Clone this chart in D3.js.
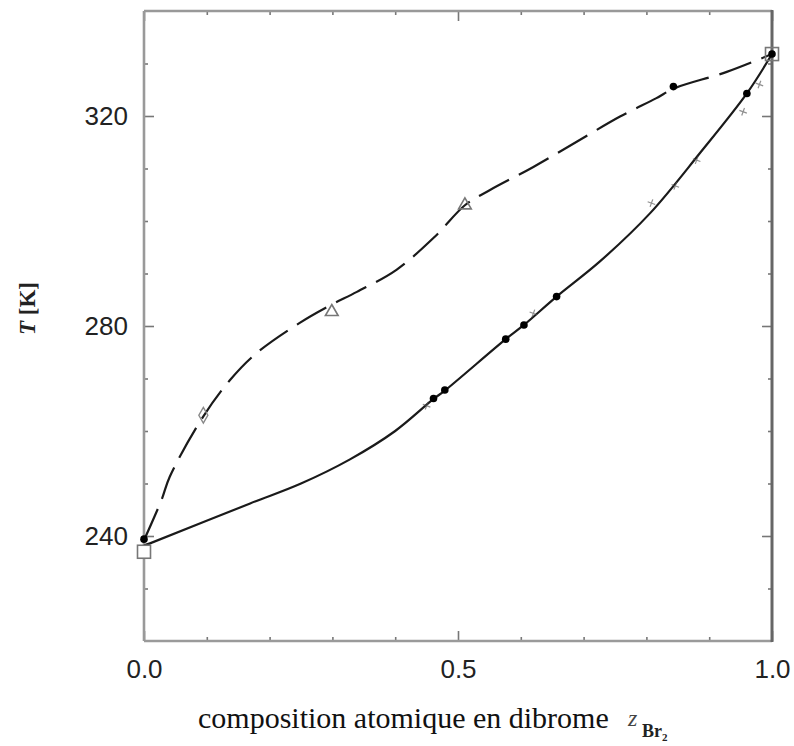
<!DOCTYPE html>
<html>
<head>
<meta charset="utf-8">
<script src="https://cdn.jsdelivr.net/npm/d3@7/dist/d3.min.js"></script>
<style>
  html, body { margin: 0; padding: 0; background: #fff; }
  svg { display: block; }
</style>
</head>
<body>
<svg id="chart" width="794" height="746"></svg>
<script>
// ---------- data ----------
// dashed curve (vapour branch)
const dashX = [0, 0.028, 0.041, 0.094, 0.137, 0.179, 0.248, 0.296, 0.339, 0.402, 0.463, 0.511, 0.551, 0.620, 0.689, 0.758, 0.816, 0.843, 0.928, 1.0];
const dashT = [239.2, 246.9, 251.3, 262.7, 269.7, 274.8, 280.6, 283.9, 286.5, 290.7, 297.0, 303.0, 305.9, 310.3, 315.1, 319.9, 323.4, 325.2, 328.4, 331.8];
// solid curve (liquid branch)
const solidX = [0, 0.0095, 0.169, 0.25, 0.328, 0.4, 0.461, 0.479, 0.576, 0.605, 0.657, 0.726, 0.806, 0.885, 0.960, 1.0];
const solidT = [238.2, 238.6, 246.2, 250.0, 254.6, 260.0, 266.1, 267.7, 277.5, 280.2, 285.6, 292.3, 301.5, 312.9, 324.3, 331.8];
// filled circles
const dotX = [0, 0.461, 0.479, 0.576, 0.605, 0.657, 0.843, 0.960, 1.0];
const dotT = [239.4, 266.2, 267.8, 277.5, 280.2, 285.6, 325.6, 324.3, 331.8];
// open squares (pure components)
const squareX = [0, 1.0];
const squareT = [237.0, 331.8];
// open triangles
const triX = [0.299, 0.511];
const triT = [282.7, 303.0];
// open diamond
const diaX = [0.0945];
const diaT = [263.0];
// faint small cross marks
const crossX = [0.45, 0.62, 0.808, 0.846, 0.88, 0.954, 0.98];
const crossT = [264.8, 282.4, 303.4, 306.7, 311.6, 320.8, 326.0];

// axes
const xDomain = [0, 1];
const yDomain = [220, 340];
const xMajor = [0, 0.5, 1.0];
const xMajorLabels = ["0.0", "0.5", "1.0"];
const xMinor = [0.1, 0.2, 0.3, 0.4, 0.6, 0.7, 0.8, 0.9];
const yMajor = [240, 280, 320];
const yMajorLabels = ["240", "280", "320"];
const yMinor = [230, 250, 260, 270, 290, 300, 310, 330];

const xLabelText = "composition atomique en dibrome";
const yLabelT = "T";
const yLabelUnit = " [K]";

// ---------- layout ----------
const svg = d3.select("#chart");
const L = 144, R = 772, T0 = 11, B = 641;
const x = d3.scaleLinear().domain(xDomain).range([L, R]);
const y = d3.scaleLinear().domain(yDomain).range([B, T0]);

svg.append("rect").attr("width", 794).attr("height", 746).attr("fill", "#fff");

const tickFont = "'Liberation Sans', Arial, Helvetica, sans-serif";

function styleAxis(g) {
  g.select(".domain").remove();
  g.selectAll(".tick line").attr("stroke", "#777").attr("stroke-width", 1.6);
  g.selectAll(".tick text").attr("fill", "#222").style("font-family", tickFont).style("font-size", "26px");
}

// bottom axis
svg.append("g").attr("transform", `translate(0,${B})`)
  .call(d3.axisBottom(x).tickValues(xMajor).tickSize(-10).tickPadding(18.5)
        .tickFormat((d, i) => xMajorLabels[i]))
  .call(styleAxis);
svg.append("g").attr("transform", `translate(0,${B})`)
  .call(d3.axisBottom(x).tickValues(xMinor).tickSize(-4).tickFormat(""))
  .call(styleAxis);
// top axis
svg.append("g").attr("transform", `translate(0,${T0})`)
  .call(d3.axisTop(x).tickValues(xMajor).tickSize(-10).tickFormat(""))
  .call(styleAxis);
svg.append("g").attr("transform", `translate(0,${T0})`)
  .call(d3.axisTop(x).tickValues(xMinor).tickSize(-4).tickFormat(""))
  .call(styleAxis);
// left axis
svg.append("g").attr("transform", `translate(${L},0)`)
  .call(d3.axisLeft(y).tickValues(yMajor).tickSize(-10).tickPadding(16)
        .tickFormat((d, i) => yMajorLabels[i]))
  .call(styleAxis);
svg.append("g").attr("transform", `translate(${L},0)`)
  .call(d3.axisLeft(y).tickValues(yMinor).tickSize(-4).tickFormat(""))
  .call(styleAxis);
// right axis
svg.append("g").attr("transform", `translate(${R},0)`)
  .call(d3.axisRight(y).tickValues(yMajor).tickSize(-10).tickFormat(""))
  .call(styleAxis);
svg.append("g").attr("transform", `translate(${R},0)`)
  .call(d3.axisRight(y).tickValues(yMinor).tickSize(-4).tickFormat(""))
  .call(styleAxis);

// frame
svg.append("line").attr("x1", L).attr("x2", R).attr("y1", T0).attr("y2", T0)
  .attr("stroke", "#999").attr("stroke-width", 2.6);
svg.append("line").attr("x1", L).attr("x2", R).attr("y1", B).attr("y2", B)
  .attr("stroke", "#9a9a9a").attr("stroke-width", 2.4);
svg.append("line").attr("x1", L).attr("x2", L).attr("y1", T0).attr("y2", B)
  .attr("stroke", "#999").attr("stroke-width", 2.6);
svg.append("line").attr("x1", R).attr("x2", R).attr("y1", T0 - 1).attr("y2", B + 1)
  .attr("stroke", "#666").attr("stroke-width", 3);

// ---------- curves ----------
const line = d3.line().x(d => x(d[0])).y(d => y(d[1])).curve(d3.curveCatmullRom.alpha(0.5));
const dashData = dashX.map((v, i) => [v, dashT[i]]);
const solidData = solidX.map((v, i) => [v, solidT[i]]);

svg.append("path").attr("d", line(dashData)).attr("fill", "none")
  .attr("stroke", "#1a1a1a").attr("stroke-width", 2.2)
  .attr("stroke-dasharray", "34,11").attr("stroke-linecap", "butt");
svg.append("path").attr("d", line(solidData)).attr("fill", "none")
  .attr("stroke", "#1a1a1a").attr("stroke-width", 2.2);

// ---------- markers ----------
// faint small crosses
const crossG = svg.append("g").selectAll("g").data(crossX.map((v, i) => [v, crossT[i]])).join("g")
  .attr("transform", d => `translate(${x(d[0])},${y(d[1])}) rotate(20)`)
  .attr("stroke", "#555").attr("stroke-width", 1.2).attr("opacity", 0.65);
crossG.append("line").attr("x1", -4).attr("x2", 4).attr("y1", 0).attr("y2", 0);
crossG.append("line").attr("x1", 0).attr("x2", 0).attr("y1", -4).attr("y2", 4);

// open squares
svg.append("g").selectAll("rect").data(squareX.map((v, i) => [v, squareT[i]])).join("rect")
  .attr("x", d => x(d[0]) - 6.5).attr("y", d => y(d[1]) - 6.5)
  .attr("width", 13).attr("height", 13)
  .attr("fill", (d, i) => i === 0 ? "#fff" : "none").attr("stroke", "#777").attr("stroke-width", 1.6);

// open triangles
svg.append("g").selectAll("path").data(triX.map((v, i) => [v, triT[i]])).join("path")
  .attr("transform", d => `translate(${x(d[0])},${y(d[1])})`)
  .attr("d", d3.symbol(d3.symbolTriangle, 70)())
  .attr("fill", "none").attr("stroke", "#777").attr("stroke-width", 1.6);

// open diamond
svg.append("g").selectAll("path").data(diaX.map((v, i) => [v, diaT[i]])).join("path")
  .attr("transform", d => `translate(${x(d[0])},${y(d[1])})`)
  .attr("d", d3.symbol(d3.symbolDiamond, 70)())
  .attr("fill", "none").attr("stroke", "#888").attr("stroke-width", 1.4);

// filled dots
svg.append("g").selectAll("circle").data(dotX.map((v, i) => [v, dotT[i]])).join("circle")
  .attr("cx", d => x(d[0])).attr("cy", d => y(d[1])).attr("r", 3.8)
  .attr("fill", "#000");

// ---------- labels ----------
const xl = svg.append("text").attr("x", 198).attr("y", 728)
  .style("font-family", "'Liberation Serif', 'Times New Roman', serif")
  .style("font-size", "30px").attr("fill", "#111");
xl.append("tspan").text(xLabelText);
svg.append("text").attr("x", 628).attr("y", 726)
  .style("font-family", "'Liberation Serif', 'Times New Roman', serif")
  .style("font-size", "24px").style("font-style", "italic").attr("fill", "#444").text("z");
const sub = svg.append("text").attr("x", 642).attr("y", 737)
  .style("font-family", "'Liberation Serif', 'Times New Roman', serif")
  .style("font-weight", "bold").attr("fill", "#222");
sub.append("tspan").style("font-size", "18px").text("Br");
sub.append("tspan").style("font-size", "11px").attr("dy", 4).text("2");

const yl = svg.append("text")
  .attr("transform", "translate(35,335) rotate(-90)")
  .style("font-family", "'Liberation Serif', 'Times New Roman', serif")
  .style("font-size", "23px").style("font-weight", "bold").attr("fill", "#222");
yl.append("tspan").style("font-style", "italic").text(yLabelT);
yl.append("tspan").text(yLabelUnit);
</script>
</body>
</html>
